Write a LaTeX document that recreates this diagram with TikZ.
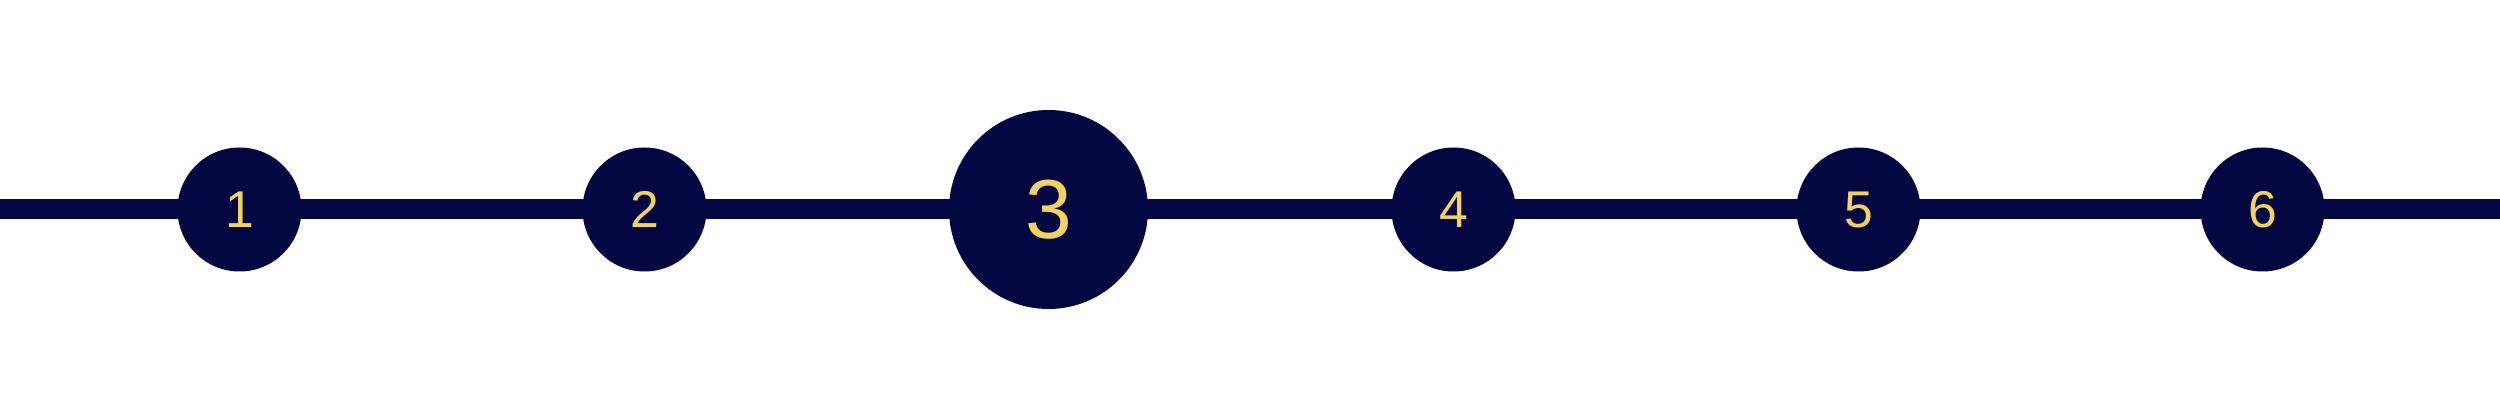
\documentclass[tikz,border=0pt]{standalone}
\usepackage{fontspec}
\setmainfont{Liberation Sans}
\usetikzlibrary{backgrounds}
\definecolor{navy}{RGB}{2,7,66}
\definecolor{gold}{RGB}{243,211,92}
\tikzset{
  stepdot/.style={circle, fill=navy, draw=none, minimum size=124pt, inner sep=0pt,
    text=gold, font=\fontsize{51.7pt}{52pt}\selectfont},
  bigdot/.style={stepdot, minimum size=199pt, font=\fontsize{83.8pt}{84pt}\selectfont},
  track/.style={draw=navy, line width=20pt, line join=miter}
}
\begin{document}
\begin{tikzpicture}[x=1pt,y=1pt]
\useasboundingbox (0,0) rectangle (2500,420);
\coordinate (L) at (0,210.5);
\coordinate (R) at (2500,210.5);
\node[stepdot] (c1) at (239.5,210.5) {1};
\node[stepdot] (c2) at (644.5,210.5) {2};
\node[bigdot]  (c3) at (1048.5,210.5) {3};
\node[stepdot] (c4) at (1453.5,210.5) {4};
\node[stepdot] (c5) at (1858.5,210.5) {5};
\node[stepdot] (c6) at (2262.5,210.5) {6};
\begin{pgfonlayer}{background}
\draw[track] (L) -- (c1.center) -- (c2.center) -- (c3.center) -- (c4.center) -- (c5.center) -- (c6.center) -- (R);
\end{pgfonlayer}
\end{tikzpicture}
\end{document}
